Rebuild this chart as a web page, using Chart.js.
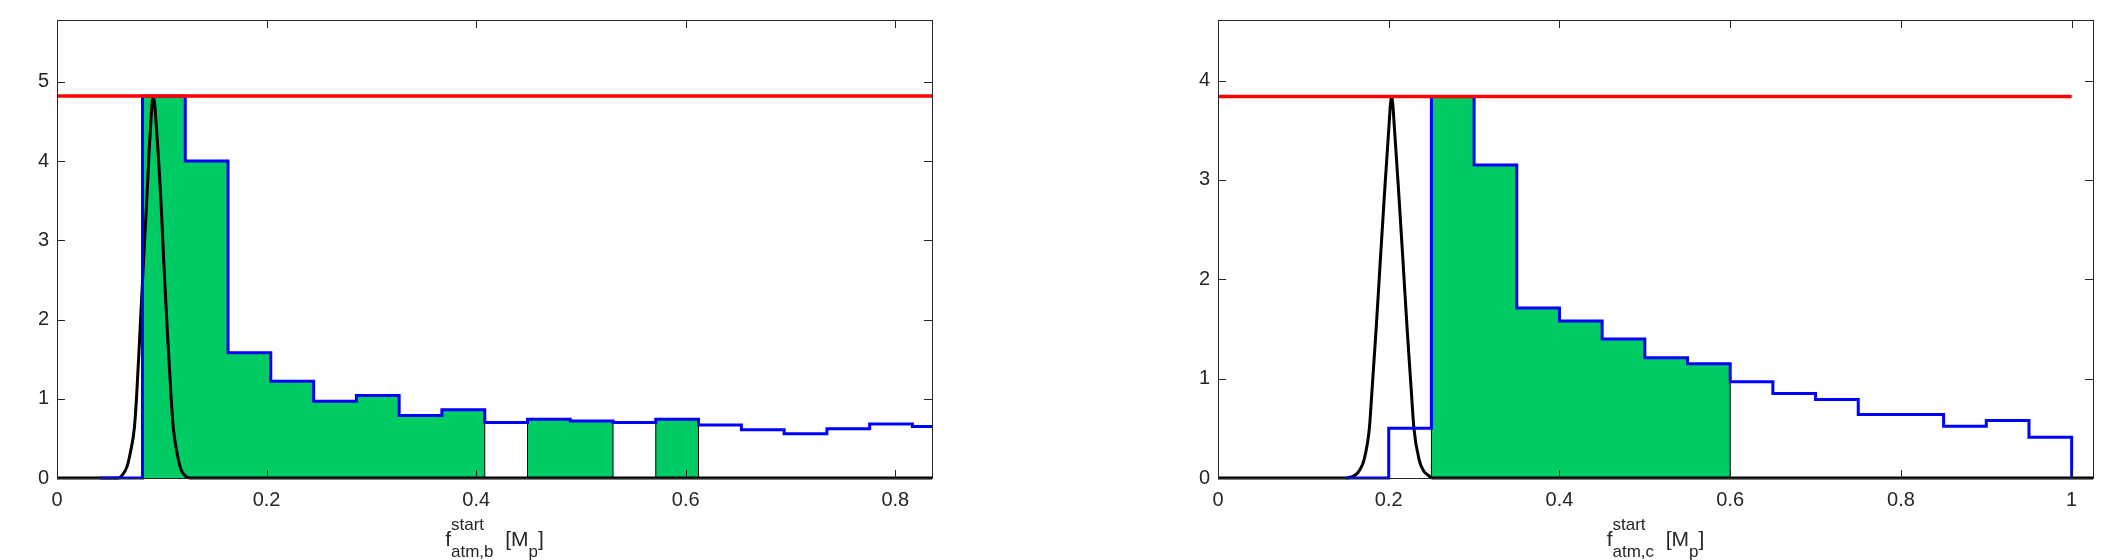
<!DOCTYPE html>
<html>
<head>
<meta charset="utf-8">
<script src="https://cdn.jsdelivr.net/npm/chart.js@4.4.1/dist/chart.umd.min.js"></script>
<style>
  html, body { margin: 0; padding: 0; background: #fff; }
  #wrap { position: relative; width: 2125px; height: 560px; }
  .box { position: absolute; top: 0; height: 560px; }
  #boxB { left: 0; width: 1062px; }
  #boxC { left: 1062px; width: 1063px; }
</style>
</head>
<body>
<div id="wrap">
  <div class="box" id="boxB"><canvas id="chartB"></canvas></div>
  <div class="box" id="boxC"><canvas id="chartC"></canvas></div>
</div>
<script>
// planet b
var edgesB = [0.0408, 0.0816, 0.1224, 0.1632, 0.2040, 0.2449, 0.2857, 0.3265, 0.3673, 0.4082, 0.4490,
              0.4898, 0.5306, 0.5714, 0.6122, 0.6531, 0.6939, 0.7347, 0.7755, 0.8163, 0.8571]
var densB = [0, 4.82, 4.00, 1.58, 1.22, 0.97, 1.04, 0.79, 0.86, 0.70, 0.74, 0.72, 0.70, 0.74, 0.67, 0.61, 0.56, 0.62, 0.68, 0.65]
var shadeB = [0, 1, 1, 1, 1, 1, 1, 1, 1, 0, 1, 1, 0, 1, 0, 0, 0, 0, 0, 0]
var gaussXB = [0, 0.058, 0.063, 0.067, 0.070, 0.0738, 0.076, 0.0792, 0.0823, 0.0856, 0.0887, 0.0919,
               0.0955, 0.0992, 0.1021, 0.1053, 0.1088, 0.111, 0.1148, 0.118, 0.122, 0.127, 0.86]
var gaussYB = [0, 0, 0.05, 0.15, 0.32, 0.63, 1.04, 1.85, 2.67, 3.49, 4.30, 4.82,
               4.30, 3.49, 2.67, 1.85, 1.04, 0.63, 0.30, 0.12, 0.03, 0, 0]
var peakB = 4.82
var redXB = [0, 0.86]
var xTicksB = [0, 0.2, 0.4, 0.6, 0.8]
var yTicksB = [0, 1, 2, 3, 4, 5]

// planet c
var edgesC = [0.15, 0.20, 0.25, 0.30, 0.35, 0.40, 0.45, 0.50, 0.55, 0.60, 0.65, 0.70, 0.75, 0.80, 0.85, 0.90, 0.95, 1.00]
var densC = [0, 0.50, 3.84, 3.15, 1.71, 1.58, 1.40, 1.21, 1.15, 0.97, 0.85, 0.79, 0.64, 0.64, 0.52, 0.58, 0.41]
var shadeC = [0, 0, 1, 1, 1, 1, 1, 1, 1, 0, 0, 0, 0, 0, 0, 0, 0]
var gaussXC = [0, 0.150, 0.156, 0.161, 0.166, 0.171, 0.1773, 0.180, 0.1851, 0.1898, 0.1945, 0.1995, 0.2034,
               0.2073, 0.2123, 0.217, 0.2217, 0.2268, 0.2295, 0.2357, 0.241, 0.246, 0.251, 1.03]
var gaussYC = [0, 0, 0.01, 0.03, 0.08, 0.18, 0.50, 0.83, 1.48, 2.14, 2.79, 3.44, 3.84,
               3.44, 2.79, 2.14, 1.48, 0.83, 0.50, 0.18, 0.07, 0.03, 0, 0]
var peakC = 3.84
var redXC = [0, 1.0]
var xTicksC = [0, 0.2, 0.4, 0.6, 0.8, 1]
var yTicksC = [0, 1, 2, 3, 4]

var FONT = '"Liberation Sans", Arial, Helvetica, sans-serif'
var INK = '#262626'

function histPoints(edges, dens, dropAtEnd) {
    var pts = []
    for (var i = 0; i < dens.length; i++) pts.push({x: edges[i], y: dens[i]})
    pts.push({x: edges[dens.length], y: dens[dens.length - 1]})
    if (dropAtEnd) pts.push({x: edges[dens.length], y: 0})
    return pts
}

function shadePoints(edges, dens, shade) {
    var pts = []
    for (var i = 0; i < dens.length; i++) {
        if (!shade[i]) continue
        if (i == 0 || !shade[i - 1]) pts.push({x: edges[i], y: 0})
        pts.push({x: edges[i], y: dens[i]})
        if (i == dens.length - 1 || !shade[i + 1]) {
            pts.push({x: edges[i + 1], y: dens[i]})
            pts.push({x: edges[i + 1], y: 0})
        }
    }
    return pts
}

function zipPoints(xs, ys) {
    return xs.map(function(x, i) { return {x: x, y: ys[i]} })
}

// box with inward ticks on all four sides, plus the tex-like x label
var framePlugin = {
    id: 'frame',
    afterDatasetsDraw: function(chart) {
        var ctx = chart.ctx, a = chart.chartArea
        var sx = chart.scales.x, sy = chart.scales.y
        var len = 8
        ctx.save()
        ctx.strokeStyle = INK
        ctx.lineWidth = 1
        ctx.beginPath()
        sx.ticks.forEach(function(t) {
            var px = Math.round(sx.getPixelForValue(t.value)) + 0.5
            ctx.moveTo(px, a.bottom); ctx.lineTo(px, a.bottom - len)
            ctx.moveTo(px, a.top); ctx.lineTo(px, a.top + len)
        })
        sy.ticks.forEach(function(t) {
            var py = Math.round(sy.getPixelForValue(t.value)) + 0.5
            ctx.moveTo(a.left, py); ctx.lineTo(a.left + len, py)
            ctx.moveTo(a.right, py); ctx.lineTo(a.right - len, py)
        })
        ctx.stroke()
        ctx.strokeRect(Math.round(a.left) + 0.5, Math.round(a.top) + 0.5,
                       Math.round(a.right - a.left), Math.round(a.bottom - a.top))
        ctx.restore()
    },
    afterDraw: function(chart, args, opts) {
        var ctx = chart.ctx, a = chart.chartArea
        var big = '21px ' + FONT, small = '17px ' + FONT
        ctx.save()
        ctx.fillStyle = INK
        ctx.textAlign = 'left'
        ctx.textBaseline = 'alphabetic'
        ctx.font = big
        var wf = ctx.measureText('f').width
        var wOpen = ctx.measureText('  [M').width
        var wClose = ctx.measureText(']').width
        ctx.font = small
        var wScr = Math.max(ctx.measureText('start').width, ctx.measureText(opts.sub).width)
        var wp = ctx.measureText('p').width
        var x = (a.left + a.right) / 2 - (wf + wScr + wOpen + wp + wClose) / 2
        var base = 546
        ctx.font = big
        ctx.fillText('f', x, base)
        x += wf
        ctx.font = small
        ctx.fillText('start', x, base - 16)
        ctx.fillText(opts.sub, x, base + 11)
        x += wScr
        ctx.font = big
        ctx.fillText('  [M', x, base)
        x += wOpen
        ctx.font = small
        ctx.fillText('p', x, base + 11)
        x += wp
        ctx.font = big
        ctx.fillText(']', x, base)
        ctx.restore()
    }
}

function makeChart(id, d) {
    var clip = {left: 0, top: 0, right: 0, bottom: 3}
    return new Chart(document.getElementById(id), {
        type: 'line',
        data: {
            datasets: [
                {
                    label: 'posterior',
                    data: shadePoints(d.edges, d.dens, d.shade),
                    stepped: true,
                    borderColor: '#000000',
                    borderWidth: 1,
                    backgroundColor: '#00CC66',
                    fill: 'origin',
                    pointRadius: 0,
                    clip: clip,
                    order: 4
                },
                {
                    label: 'prior',
                    data: zipPoints(d.gx, d.gy),
                    borderColor: '#000000',
                    borderWidth: 3,
                    cubicInterpolationMode: 'monotone',
                    tension: 0.4,
                    fill: false,
                    pointRadius: 0,
                    clip: clip,
                    order: 3
                },
                {
                    label: 'histogram',
                    data: histPoints(d.edges, d.dens, d.drop),
                    stepped: true,
                    borderColor: '#0000FF',
                    borderWidth: 3,
                    fill: false,
                    pointRadius: 0,
                    clip: clip,
                    order: 2
                },
                {
                    label: 'max',
                    data: d.redX.map(function(x) { return {x: x, y: d.peak} }),
                    borderColor: '#FF0000',
                    borderWidth: 3.5,
                    fill: false,
                    pointRadius: 0,
                    clip: clip,
                    order: 1
                }
            ]
        },
        options: {
            responsive: true,
            maintainAspectRatio: false,
            animation: false,
            events: [],
            layout: { padding: { top: 7, right: d.padRight, left: 0, bottom: 0 } },
            plugins: {
                legend: { display: false },
                tooltip: { enabled: false },
                frame: { sub: d.sub }
            },
            scales: {
                x: {
                    type: 'linear',
                    min: 0,
                    max: d.xMax,
                    grid: { display: false, drawTicks: false },
                    border: { display: false },
                    afterBuildTicks: function(s) { s.ticks = d.xTicks.map(function(v) { return {value: v} }) },
                    afterFit: function(s) { s.height = 82 },
                    ticks: {
                        padding: 10,
                        maxRotation: 0,
                        color: INK,
                        font: { family: FONT, size: 20 },
                        callback: function(v) { return String(v) }
                    }
                },
                y: {
                    type: 'linear',
                    min: 0,
                    max: d.yMax,
                    grid: { display: false, drawTicks: false },
                    border: { display: false },
                    afterBuildTicks: function(s) { s.ticks = d.yTicks.map(function(v) { return {value: v} }) },
                    afterFit: function(s) { s.width = d.yAxisW },
                    ticks: {
                        padding: 8,
                        color: INK,
                        font: { family: FONT, size: 20 },
                        callback: function(v) { return String(v) }
                    }
                }
            }
        },
        plugins: [framePlugin]
    })
}

makeChart('chartB', {
    edges: edgesB, dens: densB, shade: shadeB, drop: false,
    gx: gaussXB, gy: gaussYB, peak: peakB, redX: redXB,
    xTicks: xTicksB, yTicks: yTicksB, xMax: 0.835, yMax: 5.78,
    yAxisW: 57, padRight: 130, sub: 'atm,b'
})

makeChart('chartC', {
    edges: edgesC, dens: densC, shade: shadeC, drop: true,
    gx: gaussXC, gy: gaussYC, peak: peakC, redX: redXC,
    xTicks: xTicksC, yTicks: yTicksC, xMax: 1.025, yMax: 4.61,
    yAxisW: 156, padRight: 32, sub: 'atm,c'
})
</script>
</body>
</html>
